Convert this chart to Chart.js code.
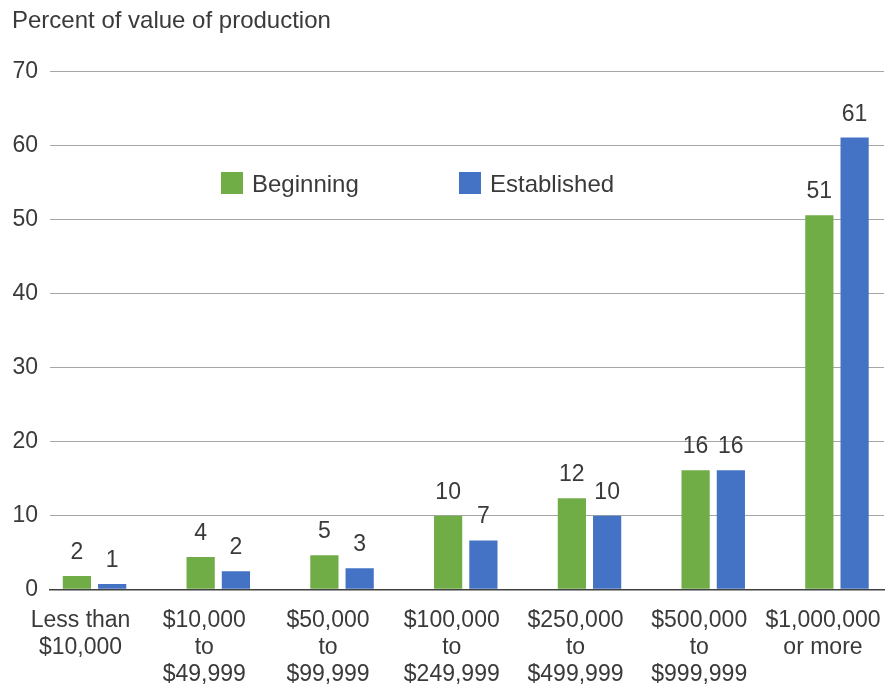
<!DOCTYPE html>
<html>
<head>
<meta charset="utf-8">
<script src="https://cdn.jsdelivr.net/npm/chart.js@4/dist/chart.umd.min.js"></script>
<style>
  html, body { margin: 0; padding: 0; background: #fff; }
  #wrap { width: 894px; height: 685px; }
</style>
</head>
<body>
<div id="wrap"><canvas id="salesChart" width="894" height="685"></canvas></div>
<script>
// sales class categories (x axis, one line per entry)
const categories = [
    ["Less than", "$10,000"],
    ["$10,000", "to", "$49,999"],
    ["$50,000", "to", "$99,999"],
    ["$100,000", "to", "$249,999"],
    ["$250,000", "to", "$499,999"],
    ["$500,000", "to", "$999,999"],
    ["$1,000,000", "or more"]
];
// percent of value of production
const beginning = [1.8, 4.35, 4.6, 9.95, 12.3, 16.1, 50.6];
const established = [0.7, 2.45, 2.85, 6.6, 9.95, 16.1, 61.1];
const yTicks = [0, 10, 20, 30, 40, 50, 60, 70];

const FONT = "'Liberation Sans', Arial, sans-serif";
const TEXT = "#3a3a3a";
Chart.defaults.font.family = FONT;
Chart.defaults.font.weight = "normal";
Chart.defaults.color = TEXT;

// value labels above every bar (rounded like the source)
const valueLabels = {
    id: "valueLabels",
    afterDatasetsDraw(chart) {
        const ctx = chart.ctx;
        ctx.save();
        ctx.font = "23px " + FONT;
        ctx.fillStyle = TEXT;
        ctx.textAlign = "center";
        ctx.textBaseline = "alphabetic";
        chart.data.datasets.forEach((ds, i) => {
            chart.getDatasetMeta(i).data.forEach((bar, j) => {
                ctx.fillText(String(Math.round(ds.data[j].y)), bar.x, bar.y - 17);
            });
        });
        ctx.restore();
    }
};

// legend sitting inside the plot
const innerLegend = {
    id: "innerLegend",
    afterDraw(chart) {
        const ctx = chart.ctx;
        const spots = [221, 459];
        ctx.save();
        ctx.font = "24px " + FONT;
        ctx.textBaseline = "middle";
        chart.data.datasets.forEach((ds, i) => {
            const x = spots[i];
            ctx.fillStyle = ds.backgroundColor;
            ctx.fillRect(x, 172, 22, 22);
            ctx.fillStyle = TEXT;
            ctx.fillText(ds.label, x + 31, 185);
        });
        ctx.restore();
    }
};

const toPoints = arr => arr.map((v, i) => ({ x: i, y: v }));

new Chart(document.getElementById("salesChart").getContext("2d"), {
    type: "bar",
    data: {
        datasets: [{
            label: "Beginning",
            data: toPoints(beginning),
            backgroundColor: "#70AD47"
        }, {
            label: "Established",
            data: toPoints(established),
            backgroundColor: "#4472C4"
        }]
    },
    options: {
        responsive: false,
        animation: false,
        categoryPercentage: 0.57,
        barPercentage: 0.8,
        layout: { padding: { left: 12, right: 10, bottom: -21, top: 0 } },
        plugins: {
            legend: { display: false },
            tooltip: { enabled: false },
            title: {
                display: true,
                text: "Percent of value of production",
                align: "start",
                font: { size: 24, weight: "normal" },
                color: TEXT,
                padding: { top: 7, bottom: 36 }
            }
        },
        scales: {
            x: {
                type: "linear",
                offset: false,
                min: -0.36,
                max: 6.38,
                afterBuildTicks: scale => {
                    scale.ticks = categories.map((c, i) => ({ value: i }));
                },
                // let the outer labels hang over the edges like the original
                afterFit: scale => {
                    scale.paddingLeft = 0;
                    scale.paddingRight = 0;
                },
                ticks: {
                    autoSkip: false,
                    maxRotation: 0,
                    padding: 18,
                    labelOffset: -14,
                    font: { size: 23, lineHeight: 1.17 },
                    color: TEXT,
                    callback: v => categories[v]
                },
                grid: { display: false, drawTicks: false },
                border: { display: true, color: "#404040", width: 1.5 }
            },
            y: {
                min: 0,
                max: 70,
                afterBuildTicks: scale => {
                    scale.ticks = yTicks.map(v => ({ value: v }));
                },
                afterFit: scale => {
                    scale.width = 38;
                },
                ticks: {
                    padding: 12,
                    font: { size: 23 },
                    color: TEXT
                },
                grid: {
                    drawTicks: false,
                    color: ctx => ctx.tick && ctx.tick.value === 0 ? "#404040" : "#a6a6a6",
                    lineWidth: 1
                },
                border: { display: false }
            }
        }
    },
    plugins: [valueLabels, innerLegend]
});
</script>
</body>
</html>
